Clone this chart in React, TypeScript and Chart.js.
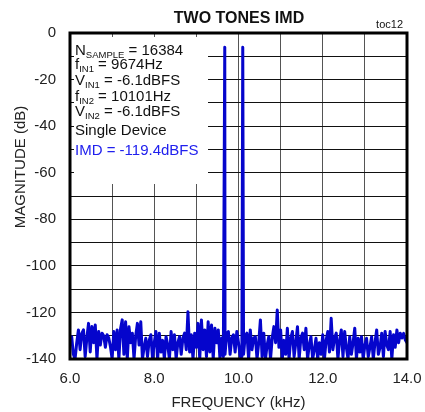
import React, { useEffect, useRef } from 'react';
import { Chart, registerables } from 'chart.js';

Chart.register(...registerables);

// ---- Data ----
const FREQ_START_KHZ = 6.0;
const FREQ_STEP_KHZ = 0.04;
// FFT noise floor (dB), one value per frequency bin from 6.00 kHz to 14.00 kHz
const NOISE_DB = [
  -131, -130.4, -138, -140, -133, -127.5, -136, -129, -127.5, -139,
  -131, -124.7, -137, -126, -133, -125.4, -140, -128.2, -134, -128.9,
  -130, -135, -129.6, -131, -134.7, -140, -128.2, -136, -127.5, -140,
  -127, -123.2, -138, -124, -140, -126.1, -133, -128.9, -140, -130,
  -124.7, -134, -124, -140, -135, -131.1, -139, -132, -129.6, -140,
  -133, -128.2, -140, -128.9, -137, -132, -140, -130.4, -134, -140,
  -128.2, -136, -129.6, -140, -133, -130.4, -138, -131, -128.9, -136,
  -119.7, -137, -129.6, -140, -128.9, -135, -124.7, -140, -123.2, -136,
  -127.5, -139, -124, -137, -125.4, -140, -126.8, -133, -127.5, -140,
  -131, -139, -138, -129, -128.2, -138, -131, -129.6, -137, -128.2,
  -133, -139, -139, -138, -130, -128.9, -140, -127.5, -136, -131,
  -130.4, -140, -133, -123.2, -139, -128.9, -140, -134, -130.4, -140,
  -131, -126.1, -133, -119, -135, -127.5, -140, -132, -138, -126.8,
  -140, -131, -128.2, -139, -133, -126.1, -140, -131, -128.9, -136,
  -126.8, -140, -134, -130.4, -140, -136, -131.1, -140, -133, -138,
  -129.6, -140, -132, -128.2, -137, -122.5, -136, -131, -128.9, -140,
  -132, -127.5, -139, -128.2, -135, -140, -130.4, -138, -133, -126.8,
  -140, -131.1, -137, -130.4, -140, -134, -131.1, -139, -135, -130.4,
  -140, -133, -127.5, -138, -135, -128.9, -139, -128.2, -134, -136,
  -128.2, -140, -129.6, -135, -127.5, -133, -128.9, -131, -129, -131.8,
  -133,
];
const TONE_FREQ_KHZ = [9.674, 10.101];
const TONE_DB = [-6.1, -6.1];

const X_MIN = 6, X_MAX = 14, X_STEP = 1;
const Y_MIN = -140, Y_MAX = 0, Y_STEP = 10;

const TITLE = 'TWO TONES IMD';
const TOC = 'toc12';
const X_TITLE = 'FREQUENCY (kHz)';
const Y_TITLE = 'MAGNITUDE (dB)';

// annotation lines: [text, subscript?]
const ANNOTATION_LINES: Array<Array<[string, boolean]>> = [
  [['N', false], ['SAMPLE', true], [' = 16384', false]],
  [['f', false], ['IN1', true], [' = 9674Hz', false]],
  [['V', false], ['IN1', true], [' = -6.1dBFS', false]],
  [['f', false], ['IN2', true], [' = 10101Hz', false]],
  [['V', false], ['IN2', true], [' = -6.1dBFS', false]],
  [['Single Device', false]],
  [['IMD = -119.4dBFS', false]],
];
const ANNOTATION_COLORS = ['#111', '#111', '#111', '#111', '#111', '#111', '#2020ee'];

const FONT = '"Liberation Sans", Arial, Helvetica, sans-serif';

function buildPoints() {
  const pts: { x: number; y: number }[] = NOISE_DB.map((db, i) => ({
    x: +(FREQ_START_KHZ + i * FREQ_STEP_KHZ).toFixed(4),
    y: db,
  }));
  TONE_FREQ_KHZ.forEach((f, i) => pts.push({ x: f, y: TONE_DB[i] }));
  pts.sort((a, b) => a.x - b.x);
  return pts;
}

const overlayPlugin = {
  id: 'overlay',
  beforeDatasetsDraw(chart: any) {
    const { ctx, chartArea: ca } = chart;
    ctx.save();
    ctx.fillStyle = '#ffffff';
    ctx.fillRect(ca.left + 4, ca.top + 4, 134, 147);
    ctx.restore();
  },
  afterDatasetsDraw(chart: any) {
    const { ctx, chartArea: ca } = chart;
    ctx.save();
    ctx.strokeStyle = '#000';
    ctx.lineWidth = 3;
    ctx.strokeRect(ca.left, ca.top, ca.right - ca.left, ca.bottom - ca.top);
    ctx.restore();
  },
  afterDraw(chart: any) {
    const { ctx, chartArea: ca } = chart;
    ctx.save();
    // title
    ctx.fillStyle = '#111';
    ctx.font = `bold 16px ${FONT}`;
    ctx.textAlign = 'center';
    ctx.textBaseline = 'middle';
    ctx.fillText(TITLE, 239, 19);
    // toc
    ctx.font = `11px ${FONT}`;
    ctx.textAlign = 'right';
    ctx.fillText(TOC, 403, 25);
    // y title
    ctx.save();
    ctx.translate(21, 167);
    ctx.rotate(-Math.PI / 2);
    ctx.textAlign = 'center';
    ctx.textBaseline = 'middle';
    ctx.font = `15px ${FONT}`;
    ctx.fillStyle = '#222';
    ctx.fillText(Y_TITLE, 0, 0);
    ctx.restore();
    // annotations
    const baselines = [55, 69, 85, 101, 116, 135, 155];
    ctx.textAlign = 'left';
    ctx.textBaseline = 'alphabetic';
    ANNOTATION_LINES.forEach((segs, li) => {
      let x = ca.left + 5;
      ctx.fillStyle = ANNOTATION_COLORS[li];
      segs.forEach(([t, sub]) => {
        ctx.font = sub ? `9.5px ${FONT}` : `15px ${FONT}`;
        ctx.fillText(t, x, baselines[li] + (sub ? 3 : 0));
        x += ctx.measureText(t).width;
      });
    });
    ctx.restore();
  },
};

export default function App() {
  const ref = useRef<HTMLCanvasElement | null>(null);
  useEffect(() => {
    if (!ref.current) return;
    const chart = new Chart(ref.current, {
      type: 'line',
      data: {
        datasets: [
          {
            data: buildPoints(),
            borderColor: '#0505cc',
            borderWidth: 3,
            pointRadius: 0,
            tension: 0,
            borderJoinStyle: 'round',
            borderCapStyle: 'round',
            fill: false,
          },
        ],
      },
      options: {
        animation: false,
        responsive: false,
        maintainAspectRatio: false,
        parsing: true,
        layout: { padding: { top: 33, right: 18, left: 0, bottom: 0 } },
        plugins: { legend: { display: false }, tooltip: { enabled: false }, title: { display: false } },
        scales: {
          x: {
            type: 'linear',
            min: X_MIN,
            max: X_MAX,
            afterFit: (s: any) => { s.height = 53; s.paddingLeft = 0; s.paddingRight = 0; },
            border: { display: false },
            grid: { color: '#555', lineWidth: 1, drawTicks: false },
            ticks: {
              stepSize: X_STEP,
              autoSkip: false,
              maxRotation: 0,
              padding: 11,
              color: '#222',
              font: { family: FONT, size: 15 },
              callback: (v: any) => (Number(v) % 2 === 0 ? Number(v).toFixed(1) : ''),
            },
            title: {
              display: true,
              text: X_TITLE,
              color: '#222',
              padding: 0,
              font: { family: FONT, size: 15 },
            },
          },
          y: {
            type: 'linear',
            min: Y_MIN,
            max: Y_MAX,
            afterFit: (s: any) => { s.width = 70; s.paddingTop = 0; s.paddingBottom = 0; },
            border: { display: false },
            grid: { color: '#111', lineWidth: 1, drawTicks: false },
            ticks: {
              stepSize: Y_STEP,
              autoSkip: false,
              padding: 14,
              color: '#222',
              font: { family: FONT, size: 15 },
              callback: (v: any) => (Number(v) % 20 === 0 ? String(v) : ''),
            },
          },
        },
      },
      plugins: [overlayPlugin],
    });
    return () => chart.destroy();
  }, []);
  return (
    <div style={{ position: 'fixed', left: 0, top: 0, width: 425, height: 412, background: '#fff' }}>
      <canvas ref={ref} width={425} height={412} style={{ display: 'block', width: 425, height: 412 }} />
    </div>
  );
}
